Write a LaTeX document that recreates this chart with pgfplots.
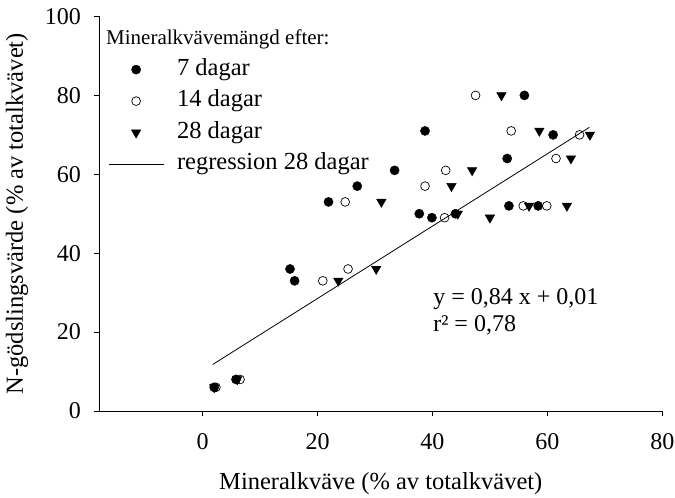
\documentclass[border=0pt]{standalone}
\usepackage{fontspec}
\setmainfont{Liberation Serif}
\usepackage{pgfplots}
\pgfplotsset{compat=1.18}

\begin{document}
\begin{tikzpicture}
\useasboundingbox (-99.3pt,-87pt) rectangle (575.7pt,411pt);
\begin{axis}[
    scale only axis,
    width=563pt, height=394.5pt,
    xmin=-18, xmax=80, ymin=0, ymax=100,
    axis lines=left,
    axis line style={-, line width=0.8pt},
    xtick={0,20,...,80},
    ytick={0,20,...,100},
    tick align=outside,
    major tick length=5pt,
    tick style={line width=0.8pt, black},
    /pgf/number format/assume math mode=true,
    ticklabel style={font=\fontsize{24}{28}\selectfont},
    xticklabel style={yshift=-14.5pt},
    yticklabel style={xshift=-10pt},
    xlabel={Mineralkväve (\% av totalkvävet)},
    ylabel={N-gödslingsvärde (\% av totalkvävet)},
    label style={font=\fontsize{24.5}{28}\selectfont},
    xlabel style={at={(axis description cs:0.5,-0.185)}, anchor=center},
    ylabel style={at={(axis description cs:-0.146,0.5)}, anchor=center},
    legend image code/.code={
        \draw[mark repeat=2, mark phase=2, #1]
            plot coordinates {(0pt,0pt) (27.5pt,0pt) (55pt,0pt)};},
    legend cell align=left,
    legend style={
        draw=none, fill=none,
        at={(axis description cs:0.0155,0.895)}, anchor=north west,
        inner sep=0pt, row sep=8.5pt, column sep=13pt,
        nodes={inner sep=0pt, text height=17pt, text depth=6pt},
        font=\fontsize{24.5}{28}\selectfont},
]
% 7 dagar
\addplot[only marks, mark=*, mark size=4.6pt, black] coordinates {
    (2,6) (5.8,8) (15.2,36) (16,33) (21.9,53) (26.9,57) (33.4,61)
    (37.7,50) (38.7,71) (39.9,49) (44,50) (53,64) (53.3,52) (56,80)
    (58.4,52) (61,70)
};
\addlegendentry{7 dagar}
% 14 dagar
\addplot[only marks, mark=o, mark size=4.4pt, black, mark options={line width=0.7pt, fill=white}] coordinates {
    (2.3,6) (6.5,8) (20.9,33) (24.8,53) (25.3,36) (38.7,57) (42.1,49)
    (42.3,61) (47.5,80) (53.7,71) (55.8,52) (59.9,52) (61.5,64) (65.6,70)
};
\addlegendentry{14 dagar}
% 28 dagar
\addplot[only marks, mark=triangle*, mark size=5.5pt, black, mark options={rotate=180}] coordinates {
    (2,6) (6,8) (23.6,33) (30.2,36) (31.1,53) (43.3,57) (44.4,50)
    (46.9,61) (50,49) (52,80) (56.8,52) (58.6,71) (63.4,52) (64.1,64)
    (67.4,70)
};
\addlegendentry{28 dagar}
% regression 28 dagar
\addplot[black, line width=0.8pt] coordinates {(1.75,11.8) (67.3,71.9)};
\addlegendentry{regression 28 dagar}

\node[anchor=base west, inner sep=0pt, font=\fontsize{21}{25}\selectfont]
    at (axis description cs:0.0119,0.9278) {Mineralkvävemängd efter:};
\node[anchor=north west, align=left, inner sep=0pt, font=\fontsize{24}{27}\selectfont]
    at (axis cs:40.1,31.1) {y = 0,84 x + 0,01\\r² = 0,78};
\end{axis}
\end{tikzpicture}
\end{document}
